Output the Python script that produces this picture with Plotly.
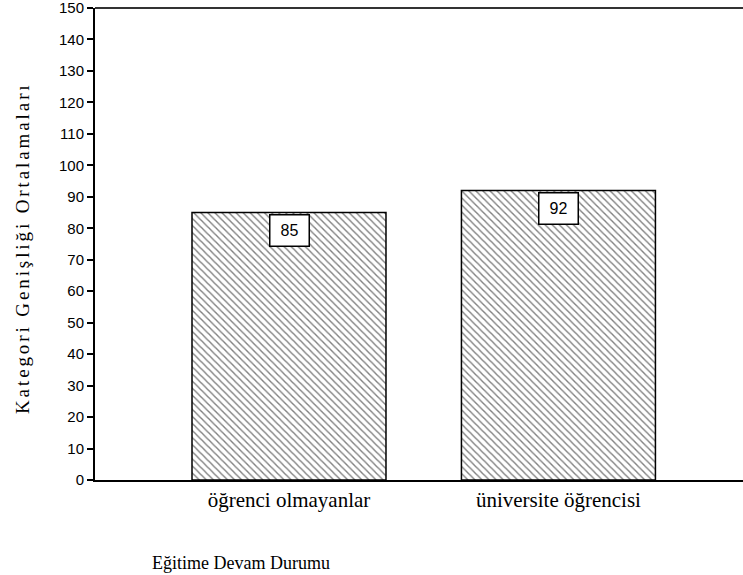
import plotly.graph_objects as go

categories = ["öğrenci olmayanlar", "üniversite öğrencisi"]
values = [85, 92]
value_labels = ["85", "92"]
y_ticks = list(range(0, 151, 10))

SERIF = "Liberation Serif"
SANS = "Liberation Sans"

fig = go.Figure()
fig.add_trace(go.Bar(
    x=[0, 1], y=values, width=0.72,
    marker=dict(color="white", line=dict(color="black", width=1.5),
                pattern=dict(shape="\\", size=5, solidity=0.28, fgcolor="black", bgcolor="white")),
    showlegend=False, hoverinfo="skip",
))

for i, (v, t) in enumerate(zip(values, value_labels)):
    fig.add_annotation(x=i, y=v, text=t, showarrow=False, yanchor="top", yshift=-1,
                       font=dict(family=SANS, size=16, color="black"),
                       bgcolor="white", bordercolor="black", borderwidth=1.5, borderpad=3,
                       width=32, height=24)

# x-axis title (left aligned below the chart)
fig.add_annotation(x=(150 - 95) / 648, y=(480 - 563) / 472, xref="paper", yref="paper",
                   text="Eğitime Devam Durumu", showarrow=False, xanchor="left", yanchor="middle",
                   font=dict(family=SERIF, size=18, color="black"))

# y-axis title
fig.add_annotation(x=(22 - 95) / 648, y=(480 - 248) / 472, xref="paper", yref="paper",
                   text="<span style='letter-spacing:2.9px'>Kategori Genişliği Ortalamaları</span>",
                   showarrow=False, textangle=-90, xanchor="center", yanchor="middle",
                   font=dict(family=SERIF, size=19, color="black"))

fig.update_layout(
    width=743, height=575,
    margin=dict(l=95, r=0, t=8, b=95, autoexpand=False),
    paper_bgcolor="white", plot_bgcolor="white",
    xaxis=dict(range=[-0.72, 1.685], tickmode="array", tickvals=[0, 1], ticktext=categories,
               showline=True, linecolor="black", linewidth=2, ticks="", showgrid=False,
               zeroline=False, fixedrange=True, automargin=False, ticklabeloverflow="allow",
               tickfont=dict(family=SERIF, size=21, color="black")),
    yaxis=dict(range=[0, 150], tickmode="array", tickvals=y_ticks, automargin=False,
               showline=True, linecolor="black", linewidth=2, ticks="outside", ticklen=6,
               tickcolor="black", tickwidth=1.5, showgrid=False, zeroline=False,
               ticklabeloverflow="allow", fixedrange=True,
               tickfont=dict(family=SANS, size=15, color="black")),
)
fig.add_shape(type="line", xref="paper", yref="paper", x0=0, x1=1, y0=1, y1=1,
              line=dict(color="#333333", width=2))

fig.write_html("out.html", config={"displayModeBar": False},
               post_script="document.body.style.margin='0';document.body.style.overflow='hidden';")
